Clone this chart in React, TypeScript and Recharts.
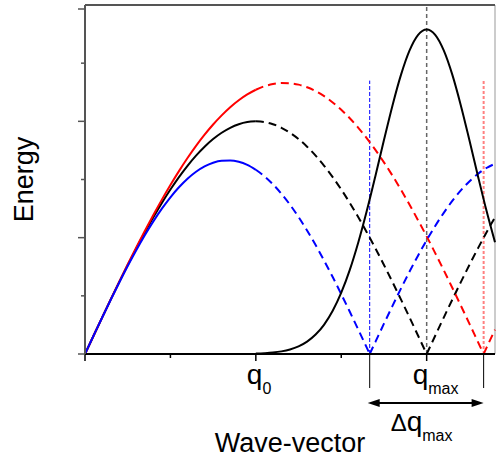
import React from 'react';
import { LineChart, Line, XAxis, YAxis, ReferenceLine, Label } from 'recharts';

// ---- data ----
const qSolid = [0, 0.1, 0.2, 0.3, 0.4, 0.5, 0.6, 0.7, 0.8, 0.9, 1, 1.1, 1.2, 1.3, 1.4, 1.5, 1.6, 1.7, 1.8, 1.9, 2];
const blackSolidE = [0, 0.314, 0.626, 0.934, 1.236, 1.531, 1.816, 2.09, 2.351, 2.598, 2.828, 3.042, 3.236, 3.411, 3.564, 3.696, 3.804, 3.889, 3.951, 3.988, 4.0];
const redSolidE = [0, 0.313, 0.626, 0.935, 1.24, 1.539, 1.831, 2.116, 2.39, 2.654, 2.905, 3.144, 3.369, 3.578, 3.77, 3.945, 4.102, 4.243, 4.363, 4.463, 4.543];
const blueSolidE = [0, 0.313, 0.624, 0.929, 1.226, 1.512, 1.784, 2.041, 2.28, 2.498, 2.694, 2.866, 3.013, 3.133, 3.225, 3.289, 3.323, 3.328, 3.304, 3.25, 3.167];

const qBlackFall = [2, 2.1, 2.2, 2.3, 2.4, 2.5, 2.6, 2.7, 2.8, 2.9, 3, 3.1, 3.2, 3.3, 3.4, 3.5, 3.6, 3.7, 3.8, 3.9, 4];
const blackFallE = [4.0, 3.988, 3.951, 3.889, 3.804, 3.696, 3.564, 3.411, 3.236, 3.042, 2.828, 2.598, 2.351, 2.09, 1.816, 1.531, 1.236, 0.934, 0.626, 0.314, 0];
const qBlackRise = [4, 4.1, 4.2, 4.3, 4.4, 4.5, 4.6, 4.7, 4.8];
const blackRiseE = [0, 0.314, 0.626, 0.934, 1.236, 1.531, 1.816, 2.09, 2.351];

const qRedFall = [2, 2.1, 2.2, 2.3, 2.4, 2.5, 2.6, 2.7, 2.8, 2.9, 3, 3.1, 3.2, 3.3, 3.4, 3.5, 3.6, 3.7, 3.8, 3.9, 4, 4.1, 4.2, 4.3, 4.4, 4.5, 4.6, 4.667];
const redFallE = [4.543, 4.603, 4.641, 4.659, 4.655, 4.631, 4.585, 4.519, 4.432, 4.325, 4.199, 4.053, 3.889, 3.707, 3.509, 3.295, 3.066, 2.822, 2.566, 2.297, 2.022, 1.735, 1.44, 1.139, 0.832, 0.522, 0.209, 0];
const qRedRise = [4.667, 4.7, 4.8];
const redRiseE = [0, 0.105, 0.418];

const qBlueFall = [2, 2.1, 2.2, 2.3, 2.4, 2.5, 2.6, 2.7, 2.8, 2.9, 3, 3.1, 3.2, 3.3, 3.333];
const blueFallE = [3.167, 3.056, 2.918, 2.754, 2.566, 2.355, 2.123, 1.872, 1.604, 1.323, 1.029, 0.726, 0.417, 0.105, 0];
const qBlueRise = [3.333, 3.4, 3.5, 3.6, 3.7, 3.8, 3.9, 4, 4.1, 4.2, 4.3, 4.4, 4.5, 4.6, 4.7, 4.8];
const blueRiseE = [0, 0.209, 0.521, 0.828, 1.128, 1.418, 1.695, 1.957, 2.202, 2.427, 2.631, 2.812, 2.967, 3.096, 3.198, 3.271];

const qPeak = [2, 2.1, 2.2, 2.3, 2.4, 2.5, 2.6, 2.7, 2.8, 2.9, 3, 3.1, 3.2, 3.3, 3.4, 3.5, 3.6, 3.7, 3.8, 3.9, 4, 4.1, 4.2, 4.3, 4.4, 4.5, 4.6, 4.7, 4.8];
const peakE = [0.007, 0.014, 0.025, 0.045, 0.078, 0.131, 0.213, 0.334, 0.506, 0.743, 1.054, 1.446, 1.921, 2.466, 3.062, 3.678, 4.274, 4.803, 5.22, 5.488, 5.58, 5.488, 5.22, 4.803, 4.274, 3.678, 3.062, 2.466, 1.921];

const xTicks = [0, 1, 2, 3, 4];
const xTickLabels = ['', '', 'q', '', 'q'];
const xTickSubs = ['', '', '0', '', 'max'];
const yTicks = [0, 1, 2, 3, 4, 5, 6];

const qLeftEdge = 3.333; // blue cutoff
const qMax = 4;
const qRightEdge = 4.667; // red cutoff
const cutoffTop = 4.7;
const belowAxis = -0.585;
const arrowLevel = -0.842;

const FONT = '"Liberation Sans", Arial, sans-serif';

const pts = (qs: number[], es: number[]) => qs.map((q, i) => ({ q, e: es[i] }));

const YTick = (props: any) => {
  const { x, y, payload } = props;
  const len = payload.value % 2 === 0 ? 7 : 4;
  return <line x1={x - len} x2={x} y1={y} y2={y} stroke="#555" strokeWidth={1.5} />;
};

const labelDx = [0, 0, -9, 0, -14];

const XTick = (props: any) => {
  const { x, y, payload } = props;
  const i = xTicks.indexOf(payload.value);
  const len = payload.value % 2 === 0 ? 7 : 4;
  return (
    <g>
      <line x1={x} x2={x} y1={y} y2={y + len} stroke="#000" strokeWidth={1.5} />
      {xTickLabels[i] ? (
        <text x={x + labelDx[i]} y={y + 30} textAnchor="start" fontFamily={FONT} fill="#000">
          <tspan fontSize={28}>{xTickLabels[i]}</tspan>
          <tspan fontSize={16} dy={9.5}>{xTickSubs[i]}</tspan>
        </text>
      ) : null}
    </g>
  );
};

const TopTick = (props: any) => {
  const { x, y } = props;
  return <line x1={x} x2={x} y1={y} y2={y + 3} stroke="#555" strokeWidth={1.5} />;
};

const ArrowShape = (props: any) => {
  const { x1, y1, x2 } = props;
  const mid = (x1 + x2) / 2;
  return (
    <g>
      <line x1={x1 + 6} y1={y1} x2={x2 - 6} y2={y1} stroke="#000" strokeWidth={2} />
      <polygon points={`${x1 - 2},${y1} ${x1 + 10},${y1 - 4} ${x1 + 10},${y1 + 4}`} fill="#000" />
      <polygon points={`${x2},${y1} ${x2 - 12},${y1 - 4} ${x2 - 12},${y1 + 4}`} fill="#000" />
      <text x={mid - 36} y={y1 + 28} fontFamily={FONT} fill="#000">
        <tspan fontSize={24}>Δ</tspan>
        <tspan fontSize={28}>q</tspan>
        <tspan fontSize={16} dy={10}>max</tspan>
      </text>
    </g>
  );
};

const XLabel = (props: any) => {
  const vb = props.viewBox;
  return (
    <text x={vb.x + vb.width / 2} y={vb.y + 98} textAnchor="middle" fontSize={27} fontFamily={FONT} fill="#000">
      Wave-vector
    </text>
  );
};

const YLabel = (props: any) => {
  const vb = props.viewBox;
  const cx = vb.x - 12;
  const cy = vb.y + vb.height / 2;
  return (
    <text x={cx} y={cy} textAnchor="middle" fontSize={27} fontFamily={FONT} fill="#000" transform={`rotate(-90, ${cx}, ${cy})`}>
      Energy
    </text>
  );
};

const dash = '8 5';

export default function App() {
  return (
    <div style={{ position: 'absolute', left: 0, top: 0, width: 500, height: 461, background: '#fff' }}>
      <LineChart width={500} height={461} margin={{ top: 4, right: 5, left: 45, bottom: 0 }}>
        <XAxis
          xAxisId="top"
          orientation="top"
          type="number"
          dataKey="q"
          domain={[0, 4.8]}
          ticks={xTicks}
          height={1}
          tickSize={0}
          tickMargin={0}
          tickLine={false}
          tick={<TopTick />}
          axisLine={{ stroke: '#555', strokeWidth: 2 }}
        />
        <XAxis
          type="number"
          dataKey="q"
          domain={[0, 4.8]}
          ticks={xTicks}
          height={107}
          tickSize={0}
          tickMargin={0}
          tickLine={false}
          tick={<XTick />}
          axisLine={{ stroke: '#000', strokeWidth: 2 }}
          allowDuplicatedCategory={false}
        >
          <Label content={<XLabel />} />
        </XAxis>
        <YAxis
          type="number"
          domain={[0, 6]}
          ticks={yTicks}
          width={40}
          tickSize={0}
          tickMargin={0}
          tickLine={false}
          tick={<YTick />}
          axisLine={{ stroke: '#555', strokeWidth: 2 }}
        >
          <Label content={<YLabel />} />
        </YAxis>

        <ReferenceLine x={4.8} stroke="#999" strokeWidth={1} />
        <ReferenceLine x={qMax} stroke="#666" strokeWidth={1.5} strokeDasharray="4 3" />
        <ReferenceLine segment={[{ x: qLeftEdge, y: 0 }, { x: qLeftEdge, y: cutoffTop }]} stroke="#0000ff" strokeWidth={1} strokeDasharray="4 2" ifOverflow="visible" />
        <ReferenceLine segment={[{ x: qRightEdge, y: 0 }, { x: qRightEdge, y: cutoffTop }]} stroke="#ff8080" strokeWidth={2} strokeDasharray="3 2" ifOverflow="visible" />
        <ReferenceLine segment={[{ x: qLeftEdge, y: 0 }, { x: qLeftEdge, y: belowAxis }]} stroke="#000" strokeWidth={1} ifOverflow="visible" />
        <ReferenceLine segment={[{ x: qRightEdge, y: 0 }, { x: qRightEdge, y: belowAxis }]} stroke="#000" strokeWidth={1} ifOverflow="visible" />
        <ReferenceLine segment={[{ x: qLeftEdge, y: arrowLevel }, { x: qRightEdge, y: arrowLevel }]} ifOverflow="visible" shape={<ArrowShape />} />

        <Line data={pts(qBlackFall, blackFallE)} dataKey="e" type="monotone" stroke="#000" strokeWidth={2} strokeDasharray={dash} dot={false} isAnimationActive={false} />
        <Line data={pts(qBlackRise, blackRiseE)} dataKey="e" type="monotone" stroke="#000" strokeWidth={2} strokeDasharray={dash} dot={false} isAnimationActive={false} />
        <Line data={pts(qRedFall, redFallE)} dataKey="e" type="monotone" stroke="#ff0000" strokeWidth={2} strokeDasharray={dash} dot={false} isAnimationActive={false} />
        <Line data={pts(qRedRise, redRiseE)} dataKey="e" type="monotone" stroke="#ff0000" strokeWidth={2} strokeDasharray={dash} dot={false} isAnimationActive={false} />
        <Line data={pts(qBlueFall, blueFallE)} dataKey="e" type="monotone" stroke="#0000ff" strokeWidth={2} strokeDasharray={dash} dot={false} isAnimationActive={false} />
        <Line data={pts(qBlueRise, blueRiseE)} dataKey="e" type="monotone" stroke="#0000ff" strokeWidth={2} strokeDasharray={dash} dot={false} isAnimationActive={false} />
        <Line data={pts(qPeak, peakE)} dataKey="e" type="monotone" stroke="#000" strokeWidth={2} dot={false} isAnimationActive={false} />
        <Line data={pts(qSolid, blackSolidE)} dataKey="e" type="monotone" stroke="#000" strokeWidth={2} dot={false} isAnimationActive={false} />
        <Line data={pts(qSolid, redSolidE)} dataKey="e" type="monotone" stroke="#ff0000" strokeWidth={2} dot={false} isAnimationActive={false} />
        <Line data={pts(qSolid, blueSolidE)} dataKey="e" type="monotone" stroke="#0000ff" strokeWidth={2} dot={false} isAnimationActive={false} />
      </LineChart>
    </div>
  );
}
